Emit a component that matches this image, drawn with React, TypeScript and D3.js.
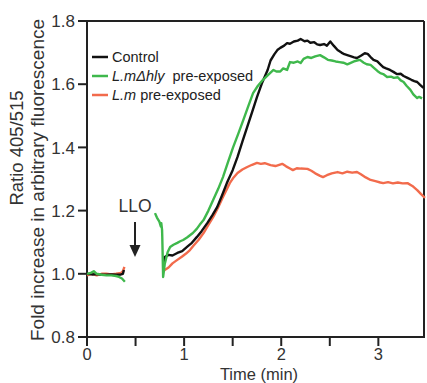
import React from "react";
import * as d3 from "d3";

// ---- data ----
const xTicksMajor = [0, 1, 2, 3];
const xTicksMinor = [0.5, 1.5, 2.5];
const yTicks = [0.8, 1.0, 1.2, 1.4, 1.6, 1.8];

const preTimeBlack = [0, 0.05, 0.1, 0.15, 0.2, 0.25, 0.3, 0.35, 0.37, 0.38];
const preBlack = [1.0, 0.998, 0.999, 0.997, 0.997, 0.998, 0.997, 0.998, 1.0, 1.012];
const preTimeOrange = [0, 0.05, 0.1, 0.15, 0.2, 0.25, 0.3, 0.35, 0.37, 0.385];
const preOrange = [0.995, 1.0, 0.995, 1.0, 1.0, 0.998, 1.0, 1.003, 1.008, 1.022];
const preTimeGreen = [0, 0.04, 0.07, 0.1, 0.15, 0.2, 0.25, 0.3, 0.33, 0.36, 0.39];
const preGreen = [1.0, 1.003, 1.008, 1.0, 0.997, 0.995, 0.995, 0.993, 0.99, 0.985, 0.975];

const timeBlack = [0.784, 0.8, 0.84, 0.88, 0.93, 0.98, 1.03, 1.08, 1.13, 1.18, 1.24, 1.29, 1.34, 1.39, 1.44, 1.5, 1.55, 1.6, 1.65, 1.7, 1.75, 1.8, 1.86, 1.89, 1.93, 1.96, 1.99, 2.03, 2.06, 2.09, 2.13, 2.17, 2.2, 2.24, 2.27, 2.3, 2.34, 2.37, 2.4, 2.44, 2.47, 2.505, 2.54, 2.58, 2.62, 2.65, 2.68, 2.72, 2.75, 2.78, 2.82, 2.86, 2.89, 2.92, 2.95, 2.99, 3.02, 3.05, 3.08, 3.12, 3.155, 3.19, 3.23, 3.26, 3.3, 3.34, 3.37, 3.4, 3.43, 3.465];
const control = [1.012, 1.053, 1.06, 1.058, 1.066, 1.072, 1.085, 1.098, 1.116, 1.135, 1.161, 1.185, 1.211, 1.248, 1.287, 1.328, 1.37, 1.418, 1.465, 1.512, 1.559, 1.602, 1.645, 1.675, 1.695, 1.708, 1.715, 1.722, 1.73, 1.728, 1.735, 1.738, 1.743, 1.736, 1.738, 1.731, 1.733, 1.726, 1.724, 1.727, 1.722, 1.735, 1.722, 1.708, 1.7, 1.695, 1.692, 1.688, 1.685, 1.683, 1.69, 1.698, 1.696, 1.686, 1.677, 1.672, 1.663, 1.654, 1.65, 1.645, 1.639, 1.632, 1.633, 1.626, 1.62, 1.614, 1.61, 1.607, 1.598, 1.588];

const timeGreen = [0.7, 0.72, 0.745, 0.76, 0.765, 0.773, 0.775, 0.784, 0.8, 0.83, 0.856, 0.89, 0.93, 0.96, 0.99, 1.03, 1.06, 1.09, 1.13, 1.16, 1.2, 1.25, 1.3, 1.35, 1.4, 1.45, 1.505, 1.56, 1.61, 1.66, 1.71, 1.76, 1.81, 1.86, 1.92, 1.95, 1.99, 2.02, 2.06, 2.09, 2.13, 2.17, 2.2, 2.23, 2.27, 2.31, 2.35, 2.4, 2.44, 2.48, 2.52, 2.56, 2.6, 2.64, 2.68, 2.71, 2.75, 2.78, 2.81, 2.85, 2.88, 2.92, 2.96, 2.99, 3.02, 3.05, 3.09, 3.13, 3.16, 3.2, 3.23, 3.26, 3.29, 3.33, 3.36, 3.4, 3.42, 3.45];
const lmDeltaHly = [1.192, 1.178, 1.165, 1.15, 1.16, 1.139, 1.117, 0.99, 1.03, 1.068, 1.085, 1.092, 1.098, 1.103, 1.107, 1.115, 1.122, 1.129, 1.142, 1.155, 1.17, 1.2, 1.234, 1.268, 1.306, 1.352, 1.401, 1.445, 1.487, 1.53, 1.572, 1.595, 1.613, 1.628, 1.645, 1.64, 1.64, 1.65, 1.645, 1.67, 1.668, 1.672, 1.667, 1.68, 1.686, 1.683, 1.688, 1.692, 1.685, 1.677, 1.675, 1.672, 1.67, 1.668, 1.663, 1.667, 1.672, 1.675, 1.677, 1.668, 1.663, 1.661, 1.65, 1.642, 1.635, 1.632, 1.623, 1.624, 1.62, 1.622, 1.612, 1.607, 1.595, 1.582, 1.568, 1.556, 1.56, 1.555];

const timeOrange = [0.78, 0.8, 0.84, 0.88, 0.93, 0.98, 1.02, 1.06, 1.1, 1.15, 1.2, 1.25, 1.3, 1.35, 1.4, 1.44, 1.47, 1.51, 1.55, 1.6, 1.65, 1.7, 1.75, 1.79, 1.83, 1.89, 1.94, 2.01, 2.05, 2.09, 2.12, 2.16, 2.2, 2.27, 2.31, 2.35, 2.4, 2.43, 2.47, 2.52, 2.58, 2.63, 2.68, 2.73, 2.78, 2.82, 2.87, 2.92, 2.97, 3.02, 3.05, 3.1, 3.15, 3.2, 3.25, 3.3, 3.35, 3.4, 3.44, 3.48];
const lm = [1.005, 1.012, 1.02, 1.033, 1.044, 1.055, 1.064, 1.075, 1.09, 1.108, 1.129, 1.155, 1.18, 1.21, 1.243, 1.268, 1.287, 1.305, 1.319, 1.33, 1.338, 1.345, 1.351, 1.348, 1.35, 1.344, 1.341, 1.348, 1.34, 1.333, 1.328, 1.334, 1.333, 1.332, 1.326, 1.318, 1.31, 1.306, 1.312, 1.318, 1.322, 1.318, 1.323, 1.32, 1.322, 1.315, 1.305, 1.297, 1.293, 1.289, 1.287, 1.29, 1.286, 1.289, 1.286, 1.287, 1.278, 1.265, 1.252, 1.24];

const BLACK = "#111111";
const GREEN = "#3fb84c";
const ORANGE = "#f26b4c";

const FONT = "'Liberation Sans', Arial, Helvetica, sans-serif";

export default function App() {
  const W = 427, H = 383;
  const x = d3.scaleLinear().domain([0, 3.47]).range([87, 424]);
  const y = d3.scaleLinear().domain([0.8, 1.8]).range([337, 21]);
  const line = d3.line<[number, number]>().x(d => x(d[0])).y(d => y(d[1]));
  const zip = (t: number[], v: number[]) => t.map((tt, i) => [tt, v[i]] as [number, number]);

  const series = [
    { color: ORANGE, segs: [zip(preTimeOrange, preOrange), zip(timeOrange, lm)] },
    { color: BLACK, segs: [zip(preTimeBlack, preBlack), zip(timeBlack, control)] },
    { color: GREEN, segs: [zip(preTimeGreen, preGreen), zip(timeGreen, lmDeltaHly)] },
  ];

  const [x0, x1] = x.range();
  const [yb, yt] = y.range();

  return (
    <svg width={W} height={H} style={{ position: "absolute", left: 0, top: 0, background: "#fff" }} fontFamily={FONT}>
      {/* frame */}
      <line x1={x0} x2={x1} y1={yt} y2={yt} stroke="#222" strokeWidth={2} />
      <line x1={x1} x2={x1} y1={yt} y2={yb} stroke="#222" strokeWidth={2} />
      <line x1={x0} x2={x0} y1={yt - 1} y2={yb + 1} stroke="#222" strokeWidth={2} />
      <line x1={x0 - 1} x2={x1 + 1} y1={yb} y2={yb} stroke="#222" strokeWidth={2} />

      {/* y ticks */}
      {yTicks.map(v => (
        <g key={"y" + v}>
          <line x1={x0 - 9} x2={x0} y1={y(v)} y2={y(v)} stroke="#222" strokeWidth={2} />
          <text x={x0 - 12} y={y(v)} dy="0.36em" textAnchor="end" fontSize={17} fill="#333">
            {v.toFixed(1)}
          </text>
        </g>
      ))}

      {/* x ticks */}
      {xTicksMajor.concat(xTicksMinor).map(t => (
        <line key={"x" + t} x1={x(t)} x2={x(t)} y1={yb} y2={yb + 9} stroke="#222" strokeWidth={2} />
      ))}
      {xTicksMajor.map(t => (
        <text key={"xl" + t} x={x(t)} y={360} textAnchor="middle" fontSize={16.5} fill="#333">
          {t}
        </text>
      ))}

      {/* axis titles */}
      <text x={259} y={379.5} textAnchor="middle" fontSize={16.5} fill="#333">Time (min)</text>
      <text transform={`translate(23,148) rotate(-90)`} textAnchor="middle" fontSize={18.5} fill="#333">Ratio 405/515</text>
      <text transform={`translate(44,180) rotate(-90)`} textAnchor="middle" fontSize={19} fill="#333">Fold increase in arbitrary fluorescence</text>

      {/* LLO annotation */}
      <text x={135} y={212} textAnchor="middle" fontSize={17.5} fill="#333">LLO</text>
      <line x1={135} x2={135} y1={222} y2={248} stroke="#222" strokeWidth={2} />
      <path d="M129.5,245 L140.5,245 L135,257 Z" fill="#222" />

      {/* data */}
      {series.map((s, i) => (
        <g key={i}>
          {s.segs.map((seg, j) => (
            <path key={j} d={line(seg) || ""} fill="none" stroke={s.color} strokeWidth={2.4} strokeLinejoin="round" />
          ))}
        </g>
      ))}

      {/* legend */}
      <g fontSize={14.5} fill="#222">
        <line x1={92} x2={108} y1={57} y2={57} stroke={BLACK} strokeWidth={2.5} />
        <text x={112} y={57} dy="0.36em">Control</text>
        <line x1={92} x2={108} y1={76} y2={76} stroke={GREEN} strokeWidth={2.5} />
        <text x={112} y={76} dy="0.36em">
          <tspan fontStyle="italic">L.mΔhly</tspan>
          <tspan>{"\u00a0\u00a0pre-exposed"}</tspan>
        </text>
        <line x1={92} x2={108} y1={95} y2={95} stroke={ORANGE} strokeWidth={2.5} />
        <text x={112} y={95} dy="0.36em">
          <tspan fontStyle="italic">L.m</tspan>
          <tspan> pre-exposed</tspan>
        </text>
      </g>
    </svg>
  );
}
